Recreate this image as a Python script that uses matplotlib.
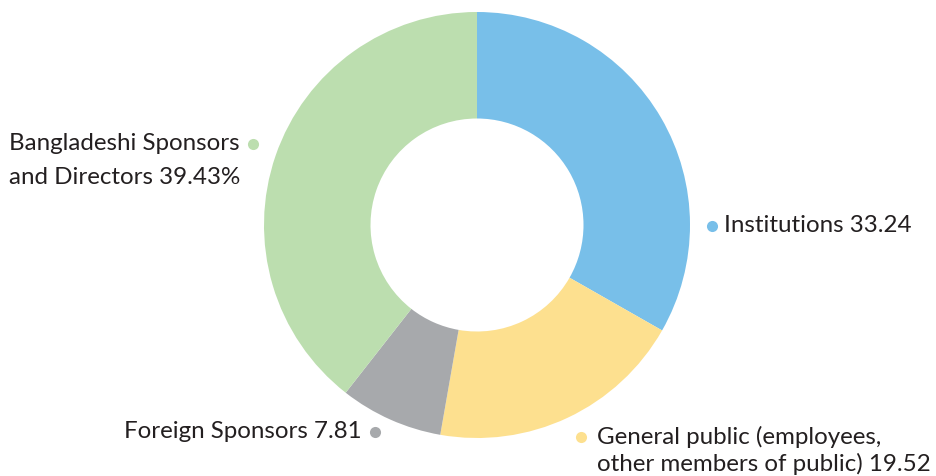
import matplotlib.pyplot as plt

# shareholding split, clockwise from 12 o'clock
labels = ["Institutions", "General public", "Foreign Sponsors", "Bangladeshi Sponsors"]
shares = [33.24, 19.52, 7.81, 39.43]
colors = ["#78bfe9", "#fde08f", "#a7a9ac", "#bcdeaf"]

W, H = 937, 476
fig = plt.figure(figsize=(W / 100, H / 100), dpi=100)

# donut, centre at (477, 225) px, radius 213 px
cx, cy, r = 477, 225, 213
ax = fig.add_axes([(cx - r) / W, (H - cy - r) / H, 2 * r / W, 2 * r / H])
ax.pie(shares, colors=colors, startangle=90, counterclock=False,
       wedgeprops=dict(width=0.5, linewidth=0))
ax.set_xlim(-1, 1)
ax.set_ylim(-1, 1)
ax.set_aspect("equal")
ax.axis("off")

# overlay in pixel coordinates for the labels
ov = fig.add_axes([0, 0, 1, 1])
ov.set_xlim(0, W)
ov.set_ylim(H, 0)
ov.axis("off")

font = dict(family="Lato", fontsize=17.4, color="#231f20")

# Bangladeshi Sponsors
ov.plot(253, 144, "o", ms=8, color=colors[3], mec="none")
ov.text(240, 144, "Bangladeshi Sponsors", ha="right", va="center", **font)
ov.text(240, 178, "and Directors %.2f%%" % shares[3], ha="right", va="center", **font)

# Institutions
ov.plot(712, 226, "o", ms=8, color=colors[0], mec="none")
ov.text(724, 226, "Institutions %.2f" % shares[0], ha="left", va="center", **font)

# Foreign Sponsors
ov.plot(375, 432, "o", ms=8, color=colors[2], mec="none")
ov.text(362, 432, "Foreign Sponsors %.2f" % shares[2], ha="right", va="center", **font)

# General public
ov.plot(581, 437, "o", ms=8, color=colors[1], mec="none")
ov.text(597, 437, "General public (employees,", ha="left", va="center", **font)
ov.text(597, 464, "other members of public) %.2f" % shares[1], ha="left", va="center", **font)

fig.savefig("out.png", dpi=100)
